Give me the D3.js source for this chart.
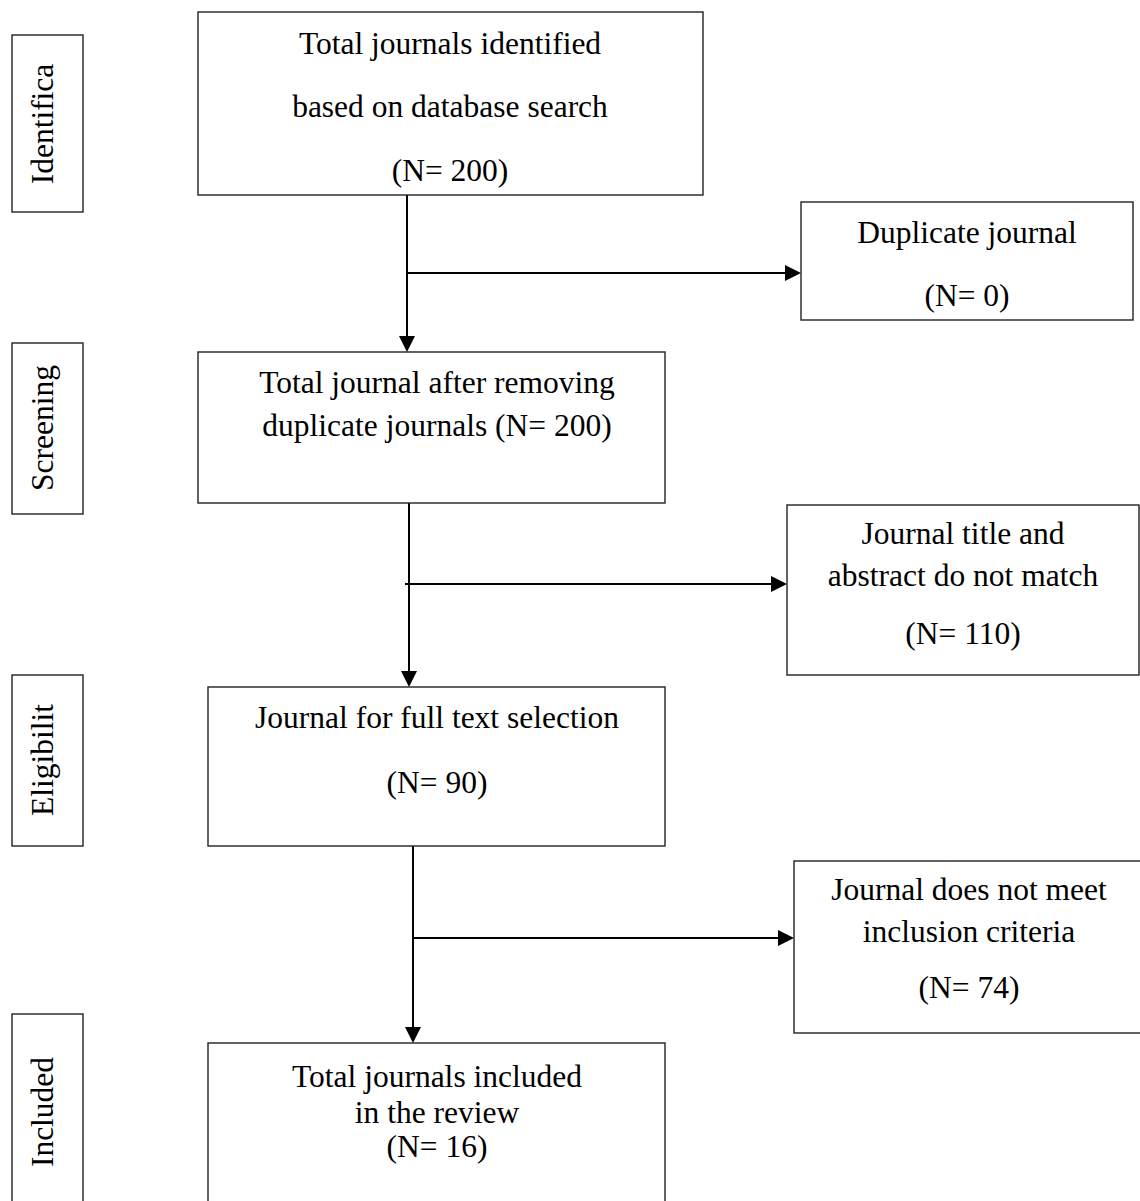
<!DOCTYPE html>
<html>
<head>
<meta charset="utf-8">
<script src="https://cdn.jsdelivr.net/npm/d3@7"></script>
<style>
  html, body { margin: 0; padding: 0; background: #fff; }
  svg { display: block; }
</style>
</head>
<body>
<script>
// ---- Data ----
const stages = ["Identifica", "Screening", "Eligibilit", "Included"];
const mainTexts = [
  ["Total journals identified", "based on database search", "(N= 200)"],
  ["Total journal after removing", "duplicate journals (N= 200)"],
  ["Journal for full text selection", "(N= 90)"],
  ["Total journals included", "in the review", "(N= 16)"]
];
const sideTexts = [
  ["Duplicate journal", "(N= 0)"],
  ["Journal title and", "abstract do not match", "(N= 110)"],
  ["Journal does not meet", "inclusion criteria", "(N= 74)"]
];

// ---- Layout (positions only) ----
const stageBoxes = [
  {x0: 12, x1: 83, y0: 35, y1: 212},
  {x0: 12, x1: 83, y0: 343, y1: 514},
  {x0: 12, x1: 83, y0: 675, y1: 846},
  {x0: 12, x1: 83, y0: 1014, y1: 1215}
];
const stageTextY = [124, 428, 760, 1112];
const mainBoxes = [
  {x0: 198, x1: 703, y0: 12, y1: 195, tx: 450, base: [54, 117, 181]},
  {x0: 198, x1: 665, y0: 352, y1: 503, tx: 437, base: [393, 436]},
  {x0: 208, x1: 665, y0: 687, y1: 846, tx: 437, base: [728, 793]},
  {x0: 208, x1: 665, y0: 1043, y1: 1215, tx: 437, base: [1087, 1123, 1157]}
];
const sideBoxes = [
  {x0: 801, x1: 1133, y0: 202, y1: 320, tx: 967, base: [243, 306]},
  {x0: 787, x1: 1139, y0: 505, y1: 675, tx: 963, base: [544, 586, 644]},
  {x0: 794, x1: 1145, y0: 861, y1: 1033, tx: 969, base: [900, 942, 998]}
];
const vLinks = [
  {x: 407, y0: 195, y1: 352},
  {x: 409, y0: 503, y1: 687},
  {x: 413, y0: 846, y1: 1043}
];
const hLinks = [
  {y: 273, x0: 407, x1: 801},
  {y: 584, x0: 405, x1: 787},
  {y: 938, x0: 413, x1: 794}
];

const W = 1140, H = 1201;
const FONT = "'Liberation Serif', 'Times New Roman', serif";
const FS = 31.5;

const svg = d3.select("body").append("svg")
  .attr("width", W).attr("height", H)
  .attr("viewBox", `0 0 ${W} ${H}`);

// stage boxes
const sg = svg.append("g");
sg.selectAll("rect").data(stageBoxes).join("rect")
  .attr("x", d => d.x0).attr("y", d => d.y0)
  .attr("width", d => d.x1 - d.x0).attr("height", d => d.y1 - d.y0)
  .attr("fill", "#fff").attr("stroke", "#222").attr("stroke-width", 1.4);
sg.selectAll("text").data(stages).join("text")
  .attr("transform", (d, i) => `translate(53,${stageTextY[i]}) rotate(-90)`)
  .attr("text-anchor", "middle")
  .attr("font-family", FONT).attr("font-size", FS).attr("fill", "#000")
  .text(d => d);

// lines
const lg = svg.append("g");
lg.selectAll("line.v").data(vLinks).join("line").attr("class", "v")
  .attr("x1", d => d.x).attr("x2", d => d.x)
  .attr("y1", d => d.y0).attr("y2", d => d.y1 - 14)
  .attr("stroke", "#000").attr("stroke-width", 2);
lg.selectAll("path.vh").data(vLinks).join("path").attr("class", "vh")
  .attr("d", d => `M${d.x - 8},${d.y1 - 16} L${d.x + 8},${d.y1 - 16} L${d.x},${d.y1} Z`)
  .attr("fill", "#000");
lg.selectAll("line.h").data(hLinks).join("line").attr("class", "h")
  .attr("x1", d => d.x0).attr("x2", d => d.x1 - 14)
  .attr("y1", d => d.y).attr("y2", d => d.y)
  .attr("stroke", "#000").attr("stroke-width", 2);
lg.selectAll("path.hh").data(hLinks).join("path").attr("class", "hh")
  .attr("d", d => `M${d.x1 - 16},${d.y - 8} L${d.x1 - 16},${d.y + 8} L${d.x1},${d.y} Z`)
  .attr("fill", "#000");

// boxes with text
function drawBoxes(boxes, texts) {
  const g = svg.append("g");
  const bg = g.selectAll("g").data(boxes).join("g");
  bg.append("rect")
    .attr("x", d => d.x0).attr("y", d => d.y0)
    .attr("width", d => d.x1 - d.x0).attr("height", d => d.y1 - d.y0)
    .attr("fill", "#fff").attr("stroke", "#222").attr("stroke-width", 1.4);
  bg.each(function(d, i) {
    d3.select(this).selectAll("text").data(texts[i]).join("text")
      .attr("x", d.tx).attr("y", (t, j) => d.base[j])
      .attr("text-anchor", "middle")
      .attr("font-family", FONT).attr("font-size", FS).attr("fill", "#000")
      .text(t => t);
  });
}
drawBoxes(mainBoxes, mainTexts);
drawBoxes(sideBoxes, sideTexts);
</script>
</body>
</html>
